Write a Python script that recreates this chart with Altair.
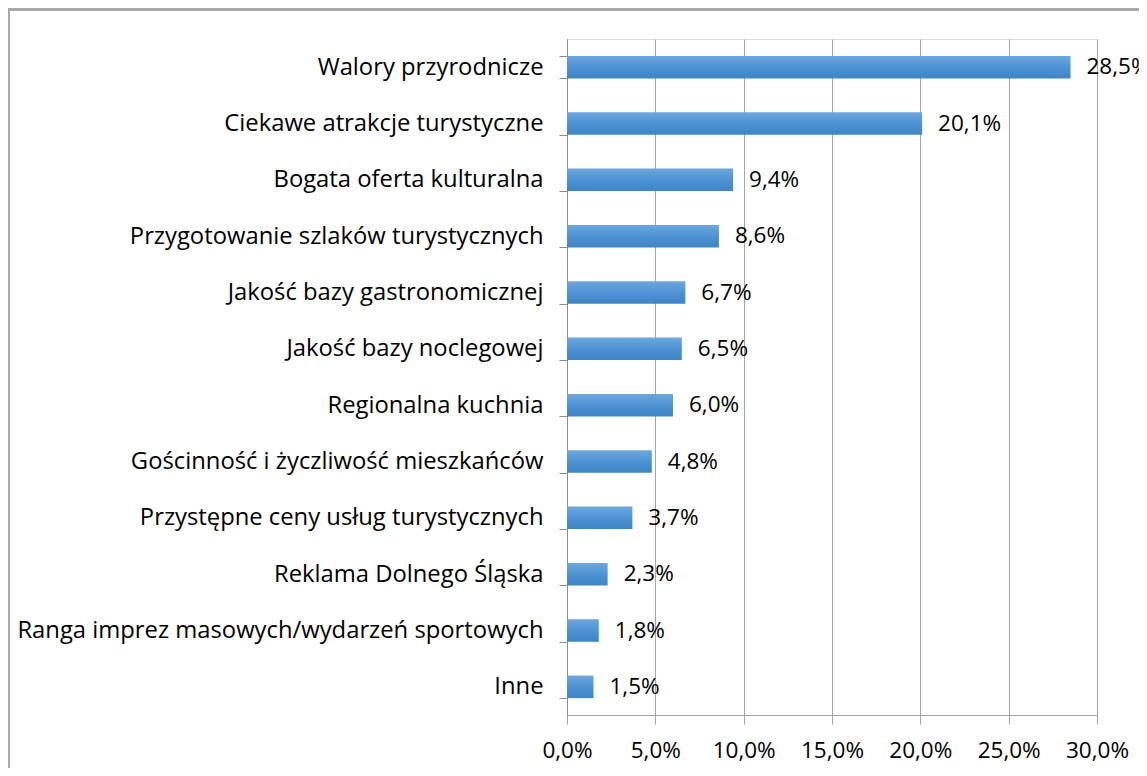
import altair as alt
import pandas as pd

categories = [
    "Walory przyrodnicze",
    "Ciekawe atrakcje turystyczne",
    "Bogata oferta kulturalna",
    "Przygotowanie szlaków turystycznych",
    "Jakość bazy gastronomicznej",
    "Jakość bazy noclegowej",
    "Regionalna kuchnia",
    "Gościnność i życzliwość mieszkańców",
    "Przystępne ceny usług turystycznych",
    "Reklama Dolnego Śląska",
    "Ranga imprez masowych/wydarzeń sportowych",
    "Inne",
]
values = [28.5, 20.1, 9.4, 8.6, 6.7, 6.5, 6.0, 4.8, 3.7, 2.3, 1.8, 1.5]
x_ticks = [0, 5, 10, 15, 20, 25, 30]

df = pd.DataFrame({
    "cat": categories,
    "val": values,
    "label": [f"{v:.1f}".replace(".", ",") + "%" for v in values],
})

FONT = "Open Sans"
FS_Y = 23.8
FS = 22.5
W, H = 530, 676
PL, PT, PR, PB = 559, 31, 42, 53

gradient = alt.Gradient(
    gradient="linear", x1=0, y1=0, x2=0, y2=1,
    stops=[
        alt.GradientStop(offset=0, color="#6EA7DD"),
        alt.GradientStop(offset=0.5, color="#4E93D4"),
        alt.GradientStop(offset=1, color="#3E85C3"),
    ],
)

y_enc = alt.Y(
    "cat:N", sort=categories, title=None,
    scale=alt.Scale(paddingInner=0.6, paddingOuter=0.3),
    axis=alt.Axis(
        tickBand="extent", domainColor="#8c8c8c", tickColor="#8c8c8c",
        tickSize=8, labelPadding=16, labelFontSize=FS_Y, labelFont=FONT,
        labelColor="#000000", labelLimit=800, labelFontWeight="normal",
        labelOverlap=False,
    ),
)
x_enc = alt.X(
    "val:Q", title=None,
    scale=alt.Scale(domain=[0, 30], nice=False),
    axis=alt.Axis(
        values=x_ticks, grid=True, gridColor="#a6a6a6", domainColor="#a6a6a6",
        tickColor="#a6a6a6", tickSize=9, labelPadding=15, labelFontSize=FS,
        labelFont=FONT, labelColor="#000000", labelFontWeight="normal",
        labelFlush=False, labelOverlap=False,
        labelExpr="replace(format(datum.value, '.1f'), '.', ',') + '%'",
    ),
)

bars = alt.Chart(df).mark_bar(color=gradient).encode(y=y_enc, x=x_enc)
text = alt.Chart(df).mark_text(
    align="left", baseline="middle", dx=16, fontSize=FS, font=FONT, color="#000000"
).encode(y=alt.Y("cat:N", sort=categories), x="val:Q", text="label:N")

frame = alt.Chart(df).mark_rect(
    fill=None, stroke="#a6a6a6", strokeWidth=1.5
).encode(
    x=alt.value(-PL + 0.5), x2=alt.value(W + PR + 20),
    y=alt.value(-PT + 1.5), y2=alt.value(H + PB + 20),
)

chart = alt.layer(frame, bars, text).properties(
    width=W, height=H,
    autosize=alt.AutoSizeParams(type="none"),
    padding={"left": PL, "top": PT, "right": PR, "bottom": PB},
).configure_view(stroke=None).configure(background="#ffffff")

chart.save("out.html", embed_options={"renderer": "svg", "actions": False})
